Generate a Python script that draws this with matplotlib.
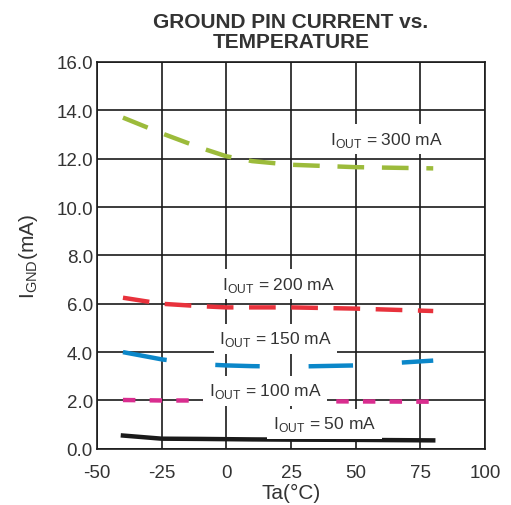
import numpy as np
import matplotlib.pyplot as plt

plt.rcParams['font.family'] = ['Liberation Sans', 'DejaVu Sans']
plt.rcParams['mathtext.fontset'] = 'custom'
plt.rcParams['mathtext.rm'] = 'Liberation Sans'
plt.rcParams['axes.unicode_minus'] = False

# temperatures (°C) and ground pin current (mA) per load
temp = [-40, -25, -10, 0, 10, 25, 50, 80]
i300 = [13.7, 13.05, 12.45, 12.1, 11.9, 11.75, 11.65, 11.6]
i200 = [6.25, 6.0, 5.9, 5.85, 5.85, 5.85, 5.8, 5.7]
i150 = [4.0, 3.7, 3.5, 3.45, 3.42, 3.4, 3.45, 3.65]
i100 = [2.02, 2.0, 2.0, 1.98, 1.98, 1.97, 1.96, 1.95]
i50 = [0.55, 0.42, 0.41, 0.40, 0.39, 0.38, 0.37, 0.35]

xticks = [-50, -25, 0, 25, 50, 75, 100]
yticks = [0, 2, 4, 6, 8, 10, 12, 14, 16]

fig = plt.figure(figsize=(5.11, 5.06), dpi=100)
ax = fig.add_axes([0.19, 0.111, 0.759, 0.7645])

ax.plot(temp, i300, color='#9cbb3b', lw=3.2, dashes=(6, 4))
ax.plot(temp, i200, color='#e8323c', lw=3.2, dashes=(6, 3.5))
ax.plot(temp, i150, color='#0b87c9', lw=3.2, dashes=(10, 11))
ax.plot(temp, i100, color='#d92d8f', lw=3.2, dashes=(2.8, 3.2))
ax.plot(temp, i50, color='#1a1a1a', lw=3.2)

box = dict(facecolor='white', edgecolor='none', pad=4)
lbl = dict(fontsize=12.5, color='#333333', ha='center', va='center', bbox=box, zorder=3)
ax.text(62, 12.8, r'I$_{\mathrm{OUT}}$ = 300 mA', **lbl)
ax.text(20, 6.8, r'I$_{\mathrm{OUT}}$ = 200 mA', **lbl)
ax.text(19, 4.55, r'I$_{\mathrm{OUT}}$ = 150 mA', **lbl)
ax.text(15, 2.4, r'I$_{\mathrm{OUT}}$ = 100 mA', **lbl)
ax.text(38, 1.03, r'I$_{\mathrm{OUT}}$ = 50 mA', **lbl)

ax.set_xlim(-50, 100)
ax.set_ylim(0, 16)
ax.set_xticks(xticks)
ax.set_yticks(yticks)
ax.set_yticklabels([f'{v:.1f}' for v in yticks])
ax.grid(True, color='#1a1a1a', lw=1.2)
ax.set_axisbelow(True)
for s in ax.spines.values():
    s.set_color('#1a1a1a')
    s.set_linewidth(1.2)
ax.tick_params(length=0, labelsize=13.5, colors='#333333', pad=3)
ax.tick_params(axis='x', pad=11)

ax.set_xlabel('Ta(°C)', fontsize=15, color='#333333', labelpad=1)
ax.set_ylabel(r'I$_{\mathrm{GND}}$(mA)', fontsize=15, color='#333333', labelpad=12)
ax.set_title('GROUND PIN CURRENT vs.\nTEMPERATURE', fontsize=15, fontweight='bold',
             color='#333333', pad=11, linespacing=1.05)

fig.savefig('out.png', dpi=100)
